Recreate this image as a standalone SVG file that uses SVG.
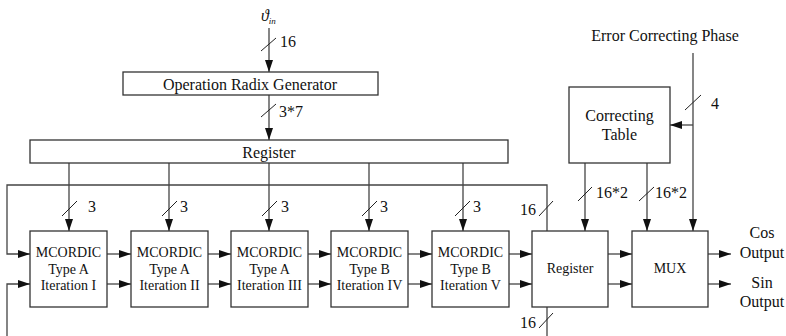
<svg xmlns="http://www.w3.org/2000/svg" width="786" height="336" viewBox="0 0 786 336">
<style>
.box{fill:#fff;stroke:#333;stroke-width:1.3}
.ln{fill:none;stroke:#444;stroke-width:1.3}
.sl{fill:none;stroke:#222;stroke-width:1}
.t{font-family:"Liberation Serif","Times New Roman",serif;font-size:14px;fill:#111;text-anchor:middle}
.b{font-size:16px}
.lb{font-family:"Liberation Serif","Times New Roman",serif;font-size:16px;fill:#111}
</style>
<defs>
<marker id="ah" markerWidth="12" markerHeight="8" refX="12" refY="4" orient="auto" markerUnits="userSpaceOnUse">
<path d="M0,0 L12,4 L0,8 z" fill="#111"/>
</marker>
</defs>
<rect width="786" height="336" fill="#fff"/>

<g id="connectors">
<line class="ln" x1="269" y1="28" x2="269" y2="72" marker-end="url(#ah)"/>
<line class="sl" x1="261" y1="51" x2="276" y2="38"/>
<line class="ln" x1="269" y1="95" x2="269" y2="140" marker-end="url(#ah)"/>
<line class="sl" x1="261" y1="117" x2="276" y2="104"/>
<line class="ln" x1="69" y1="163" x2="69" y2="231" marker-end="url(#ah)"/>
<line class="ln" x1="169" y1="163" x2="169" y2="231" marker-end="url(#ah)"/>
<line class="ln" x1="269" y1="163" x2="269" y2="231" marker-end="url(#ah)"/>
<line class="ln" x1="369" y1="163" x2="369" y2="231" marker-end="url(#ah)"/>
<line class="ln" x1="463" y1="163" x2="463" y2="231" marker-end="url(#ah)"/>
<line class="sl" x1="62" y1="216" x2="77" y2="201"/>
<line class="sl" x1="162" y1="216" x2="177" y2="201"/>
<line class="sl" x1="262" y1="216" x2="277" y2="201"/>
<line class="sl" x1="362" y1="216" x2="377" y2="201"/>
<line class="sl" x1="455" y1="216" x2="470" y2="201"/>
<polyline class="ln" points="547,231 547,185 7,185 7,254 30,254" marker-end="url(#ah)"/>
<line class="sl" x1="539" y1="216" x2="553" y2="201"/>
<polyline class="ln" points="7,336 7,284 30,284" marker-end="url(#ah)"/>
<line class="ln" x1="547" y1="307" x2="547" y2="336"/>
<line class="sl" x1="539" y1="328" x2="553" y2="313"/>
<line class="ln" x1="107" y1="254" x2="131" y2="254" marker-end="url(#ah)"/>
<line class="ln" x1="107" y1="284" x2="131" y2="284" marker-end="url(#ah)"/>
<line class="ln" x1="208" y1="254" x2="231" y2="254" marker-end="url(#ah)"/>
<line class="ln" x1="208" y1="284" x2="231" y2="284" marker-end="url(#ah)"/>
<line class="ln" x1="308" y1="254" x2="331" y2="254" marker-end="url(#ah)"/>
<line class="ln" x1="308" y1="284" x2="331" y2="284" marker-end="url(#ah)"/>
<line class="ln" x1="408" y1="254" x2="432" y2="254" marker-end="url(#ah)"/>
<line class="ln" x1="408" y1="284" x2="432" y2="284" marker-end="url(#ah)"/>
<line class="ln" x1="509" y1="254" x2="532" y2="254" marker-end="url(#ah)"/>
<line class="ln" x1="509" y1="284" x2="532" y2="284" marker-end="url(#ah)"/>
<line class="ln" x1="608" y1="254" x2="632" y2="254" marker-end="url(#ah)"/>
<line class="ln" x1="608" y1="284" x2="632" y2="284" marker-end="url(#ah)"/>
<line class="ln" x1="708" y1="254" x2="731" y2="254" marker-end="url(#ah)"/>
<line class="ln" x1="708" y1="284" x2="731" y2="284" marker-end="url(#ah)"/>
<line class="ln" x1="585" y1="163" x2="585" y2="231" marker-end="url(#ah)"/>
<line class="ln" x1="647" y1="163" x2="647" y2="231" marker-end="url(#ah)"/>
<line class="sl" x1="578" y1="201" x2="592" y2="187"/>
<line class="sl" x1="639" y1="201" x2="654" y2="187"/>
<line class="ln" x1="693" y1="53" x2="693" y2="231" marker-end="url(#ah)"/>
<line class="ln" x1="693" y1="125" x2="670" y2="125" marker-end="url(#ah)"/>
<line class="sl" x1="685" y1="110" x2="701" y2="95"/>
</g>

<g id="labels">
<text class="lb" x="261" y="21" font-style="italic" font-size="15">ϑ<tspan font-size="9" dy="3">in</tspan></text>
<text class="lb" x="280" y="47">16</text>
<text class="lb" x="279" y="117">3*7</text>
<text class="lb" x="88" y="212">3</text>
<text class="lb" x="180" y="212">3</text>
<text class="lb" x="281" y="212">3</text>
<text class="lb" x="380" y="212">3</text>
<text class="lb" x="473" y="212">3</text>
<text class="lb" x="520" y="215">16</text>
<text class="lb" x="520" y="328">16</text>
<text class="lb" x="596" y="198">16*2</text>
<text class="lb" x="655" y="198">16*2</text>
<text class="lb" x="711" y="109">4</text>
<text class="t b" x="665" y="41">Error Correcting Phase</text>
<text class="t b" x="762" y="238">Cos</text>
<text class="t b" x="762" y="258">Output</text>
<text class="t b" x="762" y="288">Sin</text>
<text class="t b" x="762" y="307">Output</text>
</g>

<g id="radix">
<rect class="box" x="123" y="72" width="255" height="23"/>
<text class="t b" x="250" y="89.5">Operation Radix Generator</text>
</g>
<g id="register1">
<rect class="box" x="30" y="140" width="478" height="23"/>
<text class="t b" x="269" y="157.5">Register</text>
</g>
<g id="mc1">
<rect class="box" x="30" y="231" width="77" height="76"/>
<text class="t" x="68.5" y="257">MCORDIC</text>
<text class="t" x="68.5" y="274">Type A</text>
<text class="t" x="68.5" y="290">Iteration I</text>
</g>
<g id="mc2">
<rect class="box" x="131" y="231" width="77" height="76"/>
<text class="t" x="169.5" y="257">MCORDIC</text>
<text class="t" x="169.5" y="274">Type A</text>
<text class="t" x="169.5" y="290">Iteration II</text>
</g>
<g id="mc3">
<rect class="box" x="231" y="231" width="77" height="76"/>
<text class="t" x="269.5" y="257">MCORDIC</text>
<text class="t" x="269.5" y="274">Type A</text>
<text class="t" x="269.5" y="290">Iteration III</text>
</g>
<g id="mc4">
<rect class="box" x="331" y="231" width="77" height="76"/>
<text class="t" x="369.5" y="257">MCORDIC</text>
<text class="t" x="369.5" y="274">Type B</text>
<text class="t" x="369.5" y="290">Iteration IV</text>
</g>
<g id="mc5">
<rect class="box" x="432" y="231" width="77" height="76"/>
<text class="t" x="470.5" y="257">MCORDIC</text>
<text class="t" x="470.5" y="274">Type B</text>
<text class="t" x="470.5" y="290">Iteration V</text>
</g>
<g id="register2">
<rect class="box" x="532" y="231" width="76" height="76"/>
<text class="t" x="570" y="273">Register</text>
</g>
<g id="mux">
<rect class="box" x="632" y="231" width="76" height="76"/>
<text class="t" x="670" y="273">MUX</text>
</g>
<g id="table">
<rect class="box" x="569" y="87" width="101" height="76"/>
<text class="t b" x="619.5" y="121">Correcting</text>
<text class="t b" x="619.5" y="140">Table</text>
</g>
</svg>
